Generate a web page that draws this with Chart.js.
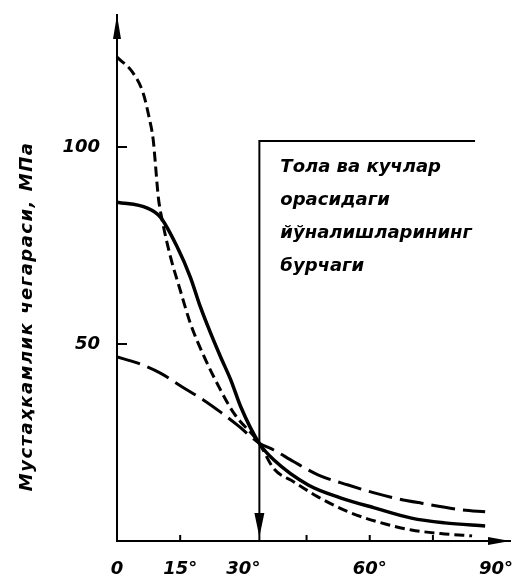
<!DOCTYPE html>
<html>
<head>
<meta charset="utf-8">
<script src="https://cdn.jsdelivr.net/npm/chart.js@4.4.0/dist/chart.umd.min.js"></script>
<style>
  html, body { margin: 0; padding: 0; background: #fff; }
</style>
</head>
<body>
<canvas id="chart" width="521" height="585"></canvas>
<script>
// angle between fibre and force (deg) / strength limit (MPa)
var xTicks = [0, 15, 30, 60, 90];
var xTickLabels = ["0", "15°", "30°", "60°", "90°"];
var yTicks = [50, 100];

var shortDashX = [0, 3.8, 6.2, 7.6, 8.6, 9.1, 9.8, 10.7, 12.7, 15.0, 17.4, 20.3, 24.6, 27.7, 33.7, 37.2, 42.0, 47.7, 54.9, 62.1, 69.9, 77.8, 84.3];
var shortDashY = [122.8, 118.8, 113.7, 107.6, 101.8, 95.9, 87.3, 81.6, 72.1, 63.7, 55.3, 47.7, 38.3, 32.5, 24.9, 18.4, 15.0, 11.2, 7.4, 4.8, 2.8, 1.8, 1.3];

var solidX = [0, 7.2, 10.3, 14.3, 17.4, 19.8, 22.2, 24.6, 27.0, 29.4, 33.7, 37.2, 45.4, 53.2, 61.1, 69.9, 77.8, 87.4];
var solidY = [86.0, 84.5, 82.2, 74.6, 67.0, 59.4, 52.8, 46.7, 40.9, 34.0, 24.9, 20.6, 14.2, 10.9, 8.4, 5.8, 4.6, 3.8];

var longDashX = [0, 4.8, 10.3, 15.5, 20.5, 24.6, 28.6, 33.7, 37.2, 42.0, 47.7, 54.9, 61.1, 65.9, 72.3, 81.9, 87.4];
var longDashY = [46.7, 45.2, 42.6, 39.1, 35.8, 32.7, 29.4, 24.9, 23.1, 20.1, 16.8, 14.2, 12.2, 10.9, 9.6, 7.9, 7.4];

// bracket marking the angle line
var markX = [33.8, 33.8, 85];
var markY = [0, 101.5, 101.5];

var noteLines = ["Тола ва кучлар", "орасидаги", "йўналишларининг", "бурчаги"];
var yTitle = "Мустаҳкамлик чегараси, МПа";

function pts(xs, ys) {
  return xs.map(function (x, i) { return { x: x, y: ys[i] }; });
}

var fontFam = "'DejaVu Sans', sans-serif";

var decor = {
  id: "decor",
  afterDraw: function (chart) {
    var c = chart.ctx;
    var xs = chart.scales.x, ys = chart.scales.y;
    var a = chart.chartArea;
    c.save();
    c.fillStyle = "#000";
    c.strokeStyle = "#000";
    c.lineWidth = 2;

    // arrow heads on the axes
    c.beginPath();
    c.moveTo(a.left, a.top);
    c.lineTo(a.left - 4, a.top + 24);
    c.lineTo(a.left + 4, a.top + 24);
    c.closePath();
    c.fill();
    c.beginPath();
    c.moveTo(a.right, a.bottom);
    c.lineTo(a.right - 22, a.bottom - 4);
    c.lineTo(a.right - 22, a.bottom + 4);
    c.closePath();
    c.fill();

    // inward ticks
    yTicks.forEach(function (v) {
      var py = ys.getPixelForValue(v);
      c.beginPath();
      c.moveTo(a.left, py);
      c.lineTo(a.left + 10, py);
      c.stroke();
    });
    [15, 45, 60, 75].forEach(function (v) {
      var px = xs.getPixelForValue(v);
      c.beginPath();
      c.moveTo(px, a.bottom);
      c.lineTo(px, a.bottom - 6);
      c.stroke();
    });

    // down arrow on the angle line
    var mx = xs.getPixelForValue(markX[0]);
    c.beginPath();
    c.moveTo(mx, a.bottom - 4);
    c.lineTo(mx - 5, a.bottom - 28);
    c.lineTo(mx + 5, a.bottom - 28);
    c.closePath();
    c.fill();

    // note text inside bracket
    var topPx = ys.getPixelForValue(markY[1]);
    c.font = "italic bold 18px " + fontFam;
    c.textAlign = "left";
    c.textBaseline = "middle";
    noteLines.forEach(function (t, i) {
      c.fillText(t, mx + 21, topPx + 26 + i * 33);
    });

    // y axis title
    c.translate(27, ys.getPixelForValue(57));
    c.rotate(-Math.PI / 2);
    c.textAlign = "center";
    c.font = "italic bold 18px " + fontFam;
    c.letterSpacing = "1.5px";
    c.fillText(yTitle, 0, 0);
    c.restore();
  }
};

var ctx = document.getElementById("chart").getContext("2d");
new Chart(ctx, {
  type: "line",
  data: {
    datasets: [
      {
        data: pts(shortDashX, shortDashY),
        borderColor: "#000",
        borderWidth: 3,
        borderDash: [10, 5],
        pointRadius: 0,
        cubicInterpolationMode: "monotone"
      },
      {
        data: pts(solidX, solidY),
        borderColor: "#000",
        borderWidth: 3.5,
        pointRadius: 0,
        cubicInterpolationMode: "monotone"
      },
      {
        data: pts(longDashX, longDashY),
        borderColor: "#000",
        borderWidth: 3,
        borderDash: [24, 8],
        pointRadius: 0,
        cubicInterpolationMode: "monotone"
      },
      {
        data: pts(markX, markY),
        borderColor: "#000",
        borderWidth: 2,
        pointRadius: 0,
        tension: 0
      }
    ]
  },
  options: {
    responsive: false,
    animation: false,
    devicePixelRatio: 1,
    layout: { padding: { top: 15, right: 11, left: 0, bottom: 0 } },
    plugins: { legend: { display: false }, tooltip: { enabled: false } },
    scales: {
      x: {
        type: "linear",
        min: 0,
        max: 93.3,
        afterBuildTicks: function (s) {
          s.ticks = xTicks.map(function (v) { return { value: v }; });
        },
        afterFit: function (s) {
          s.height = 44;
          s.paddingLeft = 0;
          s.paddingRight = 0;
        },
        grid: { display: false, drawTicks: false },
        border: { display: true, color: "#000", width: 2 },
        ticks: {
          autoSkip: false,
          maxRotation: 0,
          padding: 18,
          color: "#000",
          font: { family: fontFam, size: 18, style: "italic", weight: "bold" },
          callback: function (v) { return xTickLabels[xTicks.indexOf(v)]; }
        }
      },
      y: {
        min: 0,
        max: 133.5,
        afterBuildTicks: function (s) {
          s.ticks = yTicks.map(function (v) { return { value: v }; });
        },
        afterFit: function (s) {
          s.width = 117;
          s.paddingTop = 0;
          s.paddingBottom = 0;
        },
        grid: { display: false, drawTicks: false },
        border: { display: true, color: "#000", width: 2 },
        ticks: {
          padding: 17,
          color: "#000",
          font: { family: fontFam, size: 18, style: "italic", weight: "bold" }
        }
      }
    }
  },
  plugins: [decor]
});
</script>
</body>
</html>
